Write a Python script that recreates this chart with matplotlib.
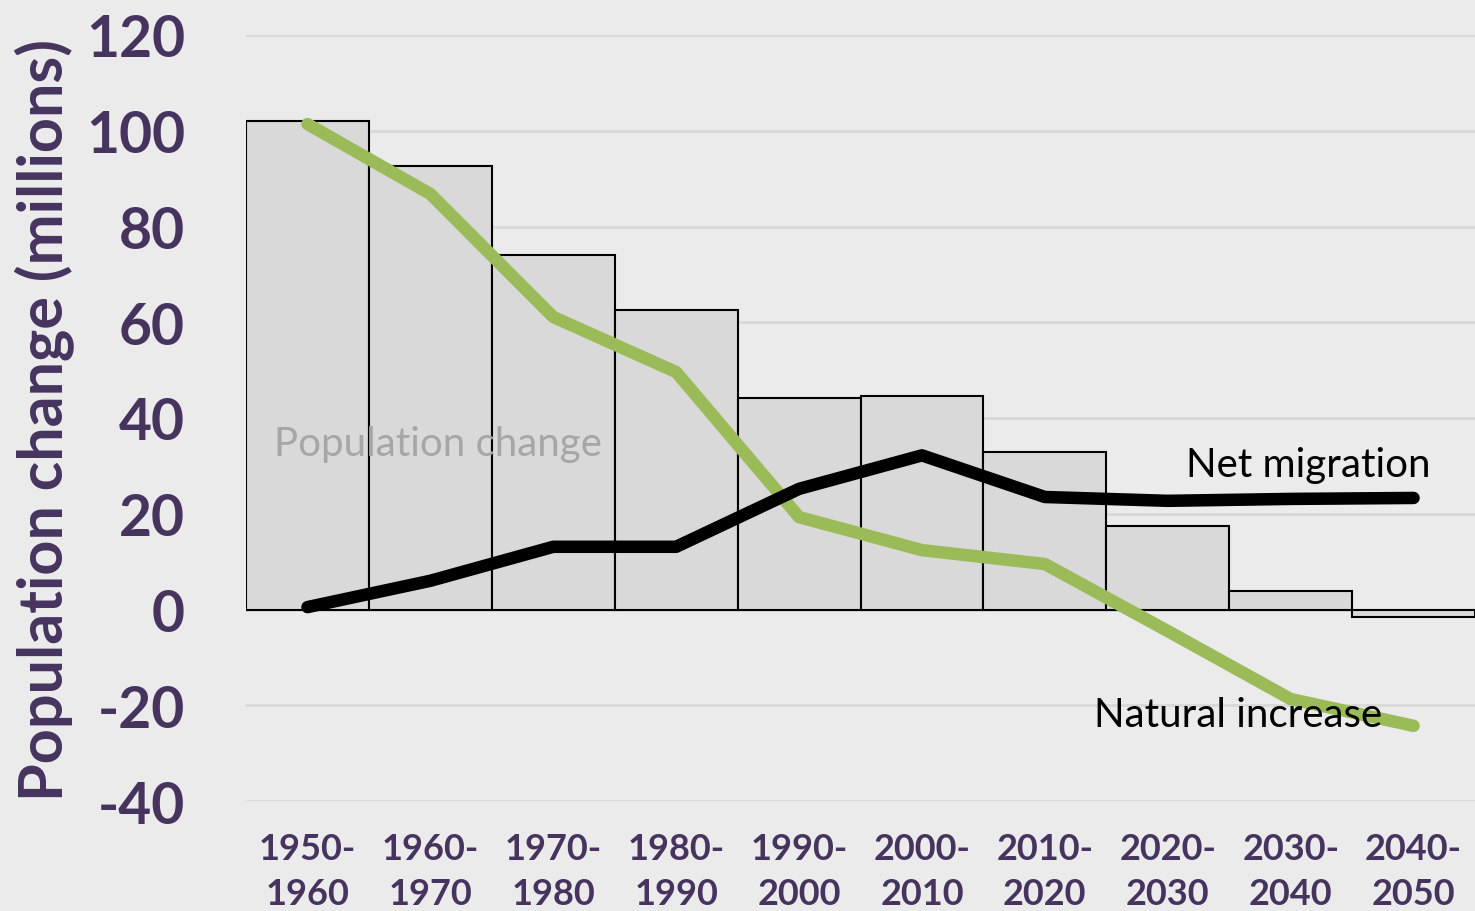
import matplotlib
matplotlib.use("Agg")
import matplotlib.pyplot as plt
import numpy as np

periods = ["1950-\n1960", "1960-\n1970", "1970-\n1980", "1980-\n1990", "1990-\n2000",
           "2000-\n2010", "2010-\n2020", "2020-\n2030", "2030-\n2040", "2040-\n2050"]
population_change = [102.0, 92.6, 74.0, 62.6, 44.2, 44.6, 32.9, 17.5, 3.9, -1.6]
natural_increase = [101.4, 86.8, 61.1, 49.6, 19.3, 12.4, 9.5, -4.5, -18.7, -24.3]
net_migration = [0.5, 6.0, 13.1, 13.1, 25.2, 32.2, 23.5, 22.7, 23.1, 23.3]
yticks = [-40, -20, 0, 20, 40, 60, 80, 100, 120]

purple = "#46345f"
bg = "#ebebeb"
plt.rcParams['font.family'] = ['Lato', 'DejaVu Sans']

fig = plt.figure(figsize=(14.75, 9.12), dpi=100, facecolor=bg)
ax = fig.add_axes([246/1475, 1-802/912, 1-246/1475, (802-36)/912])
ax.set_facecolor(bg)

x = np.arange(len(periods))
ax.bar(x, population_change, width=1.0, color="#d9d9d9", edgecolor="black", linewidth=1.5, zorder=2)
ax.plot(x, natural_increase, color="#9bbb59", lw=9, solid_capstyle="round", solid_joinstyle="round", zorder=3)
ax.plot(x, net_migration, color="black", lw=9, solid_capstyle="round", solid_joinstyle="round", zorder=4)

ax.set_xlim(-0.5, 9.5)
ax.set_ylim(-40, 120)
ax.set_yticks(yticks)
ax.set_yticklabels([str(v) for v in yticks])
ax.set_xticks(x)
ax.set_xticklabels(periods)
for s in ax.spines.values():
    s.set_visible(False)
ax.grid(axis="y", color="#d9d9d9", lw=2, zorder=0)
ax.set_axisbelow(True)
ax.tick_params(axis="y", length=0, pad=44, labelsize=41, labelcolor=purple)
ax.tick_params(axis="x", length=0, pad=22, labelsize=26, labelcolor=purple)
for t in ax.get_yticklabels():
    t.set_fontweight("bold")
for t in ax.get_xticklabels():
    t.set_fontweight("bold")
    t.set_linespacing(1.45)

ax.text(1.06, 34.6, "Population change", fontsize=29, color="#a6a6a6", ha="center", va="center", zorder=5)
ax.text(7.15, 30.2, "Net migration", fontsize=29, color="black", ha="left", va="center", zorder=5)
ax.text(6.40, -22.0, "Natural increase", fontsize=29, color="black", ha="left", va="center", zorder=5)

fig.text(45/1475, 1-420/912, "Population change (millions)", rotation=90, fontsize=44,
         color=purple, ha="center", va="center", fontweight="bold")

fig.savefig("out.png", dpi=100, facecolor=bg)
